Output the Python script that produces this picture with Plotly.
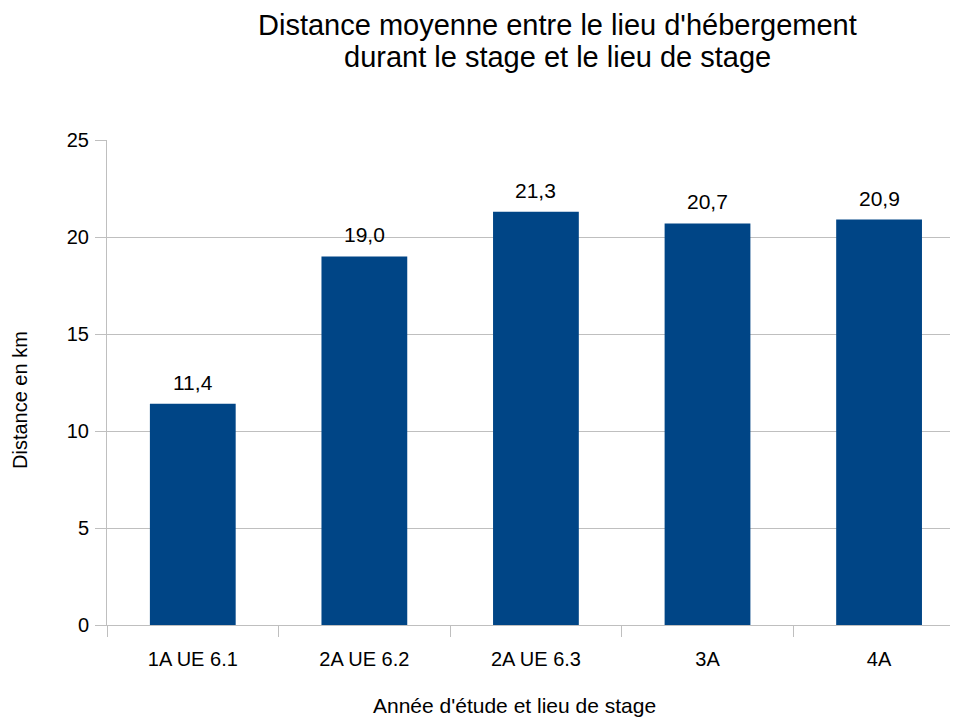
import plotly.graph_objects as go

categories = ['1A UE 6.1', '2A UE 6.2', '2A UE 6.3', '3A', '4A']
distances = [11.4, 19.0, 21.3, 20.7, 20.9]
y_ticks = [0, 5, 10, 15, 20, 25]
title_lines = ["Distance moyenne entre le lieu d'hébergement", 'durant le stage et le lieu de stage']

bar_color = '#004586'
grid_color = '#bfbfbf'
font_family = 'Liberation Sans, Arial, sans-serif'

# page body has an 8px margin, so the figure is drawn 8px smaller
W, H = 950, 710
L, T, B = 99, 132, 93
pw, ph = W - L, H - T - B

fig = go.Figure()
fig.add_trace(go.Bar(x=categories, y=distances, marker={'color': bar_color, 'line': {'width': 0}},
                     width=0.5, hoverinfo='x+y'))

# value labels above each bar
for cat, val in zip(categories, distances):
    fig.add_annotation(x=cat, y=val, text=f'{val:.1f}'.replace('.', ','), showarrow=False,
                       yanchor='bottom', yshift=8, font={'size': 21, 'color': '#000000'})

# two-line title
for line, ypx in zip(title_lines, [17, 49]):
    fig.add_annotation(text=line, xref='paper', yref='paper', x=(549 - L) / pw,
                       y=(H - B - ypx) / ph, showarrow=False, xanchor='center', yanchor='middle',
                       font={'size': 29, 'color': '#000000'})

fig.add_annotation(text="Année d'étude et lieu de stage", xref='paper', yref='paper',
                   x=(506 - L) / pw, y=-(697 - (H - B)) / ph, showarrow=False,
                   xanchor='center', yanchor='middle', font={'size': 21})
fig.add_annotation(text='Distance en km', xref='paper', yref='paper', x=-(L - 12) / pw,
                   y=(H - B - 392) / ph, showarrow=False, textangle=-90,
                   xanchor='center', yanchor='middle', font={'size': 20})

fig.update_layout(
    width=W, height=H,
    margin={'l': L, 'r': 0, 't': T, 'b': B},
    paper_bgcolor='white', plot_bgcolor='white',
    font={'family': font_family, 'color': '#000000'},
    showlegend=False,
    xaxis={'range': [-0.5, 4.46], 'showgrid': False, 'showline': True, 'linecolor': grid_color,
           'linewidth': 1, 'ticks': 'outside', 'tickson': 'boundaries', 'ticklen': 11,
           'tickcolor': grid_color, 'tickfont': {'size': 20}, 'ticklabelstandoff': 16},
    yaxis={'range': [0, 25], 'tickvals': y_ticks, 'showgrid': True, 'gridcolor': grid_color,
           'gridwidth': 1, 'showline': True, 'linecolor': grid_color, 'ticks': 'outside',
           'ticklen': 11, 'tickcolor': grid_color, 'tickfont': {'size': 20},
           'ticklabelstandoff': 2, 'zeroline': False},
)

fig.write_html('out.html')
